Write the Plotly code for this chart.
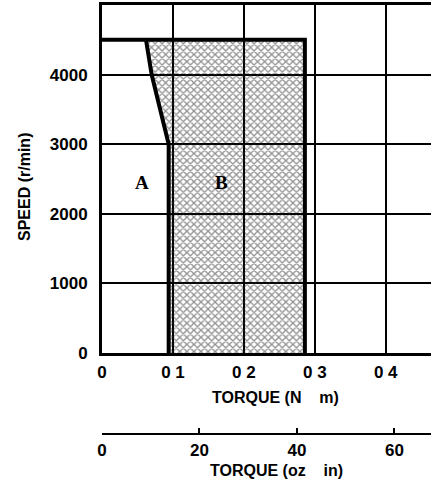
import plotly.graph_objects as go

# Data
curve_torque = [0.062, 0.070, 0.082, 0.094, 0.094]   # N·m, boundary between A and B
curve_speed = [4500, 4000, 3500, 3000, 0]            # r/min
max_torque = 0.286                                    # N·m, right limit of region B
max_speed = 4500                                      # r/min
x_ticks = [0, 0.1, 0.2, 0.3, 0.4]
x_ticktext = ["0", "0 1", "0 2", "0 3", "0 4"]
y_ticks = [0, 1000, 2000, 3000, 4000]
oz_ticks = [0, 20, 40, 60]
region_labels = ["A", "B"]
region_x = [0.056, 0.169]
region_y = [2450, 2450]

W, H = 431, 490
L, T = 102, 5
ph = H - T

def py(y):
    return (H - y) / ph

def px(x):
    return (x - L) / (W - L)

tick_font = dict(family="Liberation Sans", size=17, color="black", weight="bold")
title_font = dict(family="Liberation Sans", size=16, color="black", weight="bold")

fig = go.Figure()

# Region B (shaded)
bx = list(curve_torque) + [max_torque, max_torque, curve_torque[0]]
by = list(curve_speed) + [0, max_speed, curve_speed[0]]
fig.add_trace(go.Scatter(
    x=bx, y=by, mode="none", fill="toself", fillcolor="rgba(0,0,0,0)",
    fillpattern=dict(shape="x", fgcolor="#222", bgcolor="rgba(0,0,0,0)", size=5, solidity=0.45),
    showlegend=False, hoverinfo="skip"))

# Boundary A/B
fig.add_trace(go.Scatter(x=curve_torque, y=curve_speed, mode="lines",
                         line=dict(color="black", width=4), showlegend=False))
# Top and right limit
fig.add_trace(go.Scatter(x=[0, max_torque, max_torque], y=[max_speed, max_speed, 0],
                         mode="lines", line=dict(color="black", width=4), showlegend=False))

# dummy trace for secondary axis
fig.add_trace(go.Scatter(x=[0, 67.5], y=[None, None], xaxis="x2", yaxis="y",
                         mode="markers", marker=dict(opacity=0), showlegend=False,
                         hoverinfo="skip"))

for t, xv, yv in zip(region_labels, region_x, region_y):
    fig.add_annotation(x=xv, y=yv, text=t, showarrow=False, xanchor="center", yanchor="middle",
                       font=dict(family="Liberation Serif", size=19, color="black", weight="bold"))

fig.add_annotation(x=px(24), y=py(187), xref="paper", yref="paper", text="SPEED (r/min)",
                   textangle=-90, showarrow=False, xanchor="center", yanchor="middle",
                   font=title_font)
fig.add_annotation(x=px(275), y=py(397), xref="paper", yref="paper",
                   text="TORQUE (N\u00a0\u00a0\u00a0\u00a0m)", showarrow=False,
                   xanchor="center", yanchor="middle", font=title_font)
fig.add_annotation(x=px(276), y=py(470), xref="paper", yref="paper",
                   text="TORQUE (oz\u00a0\u00a0\u00a0\u00a0in)", showarrow=False,
                   xanchor="center", yanchor="middle", font=title_font)

fig.update_layout(
    width=W, height=H,
    margin=dict(l=L, r=0, t=T, b=0, autoexpand=False),
    paper_bgcolor="white", plot_bgcolor="white",
    showlegend=False,
    xaxis=dict(range=[0, 0.4638], tickvals=x_ticks, ticktext=x_ticktext,
               showgrid=True, gridcolor="black", gridwidth=2,
               showline=True, linecolor="black", linewidth=3, mirror=True,
               zeroline=False, ticks="", tickfont=tick_font, ticklabelstandoff=2,
               automargin=False),
    yaxis=dict(domain=[py(353), 1], range=[0, 5000], tickvals=y_ticks,
               showgrid=True, gridcolor="black", gridwidth=2,
               showline=True, linecolor="black", linewidth=3,
               zeroline=False, ticks="", tickfont=tick_font, ticklabelstandoff=8,
               automargin=False),
    xaxis2=dict(overlaying="x", anchor="free", position=py(434), side="bottom",
                range=[0, 67.5], tickvals=oz_ticks, showgrid=False, zeroline=False,
                showline=True, linecolor="black", linewidth=2,
                ticks="inside", ticklen=5, tickwidth=2, tickcolor="black",
                tickfont=tick_font, ticklabelstandoff=1, automargin=False),
)

fig.write_html("out.html", config={"displayModeBar": False},
               post_script="document.body.style.margin='0';document.body.style.overflow='hidden';")
